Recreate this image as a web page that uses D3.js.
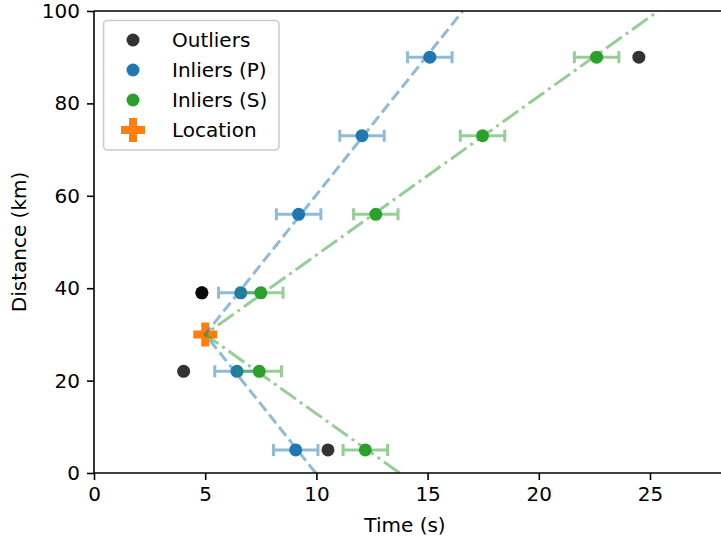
<!DOCTYPE html>
<html>
<head>
<meta charset="utf-8">
<script src="https://cdn.jsdelivr.net/npm/d3@7"></script>
<style>
  body { margin: 0; background: #fff; }
  text { font-family: "DejaVu Sans", sans-serif; }
</style>
</head>
<body>
<script>
// picks: distance (km) and arrival time (s)
const outlierDist = [39, 39, 22, 5, 90];
const outlierTime = [4.85, 4.85, 4.03, 10.52, 24.5];

const pDist = [5, 22, 39, 56, 73, 90];
const pTime = [9.07, 6.43, 6.6, 9.2, 12.05, 15.1];
const pErr  = [1.0, 1.0, 1.0, 1.0, 1.0, 1.0];

const sDist = [5, 22, 39, 56, 73, 90];
const sTime = [12.2, 7.43, 7.5, 12.67, 17.47, 22.6];
const sErr  = [1.0, 1.0, 1.0, 1.0, 1.0, 1.0];

const locTime = 5.0, locDist = 30;

// fitted moveout lines (time at distance)
const pLineDist = [0, 30, 100];
const pLineTime = [9.97, 5.0, 16.58];
const sLineDist = [0, 30, 100];
const sLineTime = [13.74, 5.0, 25.37];

const xTicks = [0, 5, 10, 15, 20, 25];
const yTicks = [0, 20, 40, 60, 80, 100];

const legendLabels = ["Outliers", "Inliers (P)", "Inliers (S)", "Location"];

const width = 721, height = 538;
const m_left = 94, m_top = 11, m_bottom = 473;

const blue = "#1f77b4", green = "#2ca02c", orange = "#ff7f0e", dark = "#333333";

const svg = d3.select("body").append("svg")
    .attr("width", width)
    .attr("height", height);

const x = d3.scaleLinear().domain([0, 30]).range([m_left, m_left + 30 * 22.24]);
const y = d3.scaleLinear().domain([0, 100]).range([m_bottom, m_top]);

// clip everything outside the axes box
svg.append("clipPath").attr("id", "clip")
    .append("rect").attr("x", m_left).attr("y", m_top)
    .attr("width", width - m_left).attr("height", m_bottom - m_top);

const plot = svg.append("g").attr("clip-path", "url(#clip)");

function errorSeries(dist, time, err, color) {
    const g = plot.append("g");
    const cap = 6;
    dist.forEach((d, i) => {
        const x0 = x(time[i] - err[i]), x1 = x(time[i] + err[i]), yy = y(d);
        const path = `M${x0},${yy}H${x1}M${x0},${yy - cap}V${yy + cap}M${x1},${yy - cap}V${yy + cap}`;
        g.append("path")
            .attr("d", path)
            .attr("fill", "none")
            .attr("stroke", color)
            .attr("stroke-opacity", 0.5)
            .attr("stroke-width", 3);
    });
    g.selectAll("circle")
        .data(dist)
        .enter()
        .append("circle")
        .attr("cx", (d, i) => x(time[i]))
        .attr("cy", d => y(d))
        .attr("r", 6.5)
        .attr("fill", color);
}

// outliers (black, alpha 0.8 -> overlapping picks look darker)
plot.append("g").selectAll("circle")
    .data(outlierDist)
    .enter()
    .append("circle")
    .attr("cx", (d, i) => x(outlierTime[i]))
    .attr("cy", d => y(d))
    .attr("r", 6.5)
    .attr("fill", "#000")
    .attr("fill-opacity", 0.8);

errorSeries(pDist, pTime, pErr, blue);
errorSeries(sDist, sTime, sErr, green);

// filled plus marker
function plusPath(cx, cy, s) {
    const a = s / 2, b = s / 6;
    return `M${cx - b},${cy - a}H${cx + b}V${cy - b}H${cx + a}V${cy + b}H${cx + b}V${cy + a}H${cx - b}V${cy + b}H${cx - a}V${cy - b}H${cx - b}Z`;
}

plot.append("path")
    .attr("d", plusPath(x(locTime), y(locDist), 24))
    .attr("fill", orange);

const line = d3.line().x(d => x(d[0])).y(d => y(d[1]));

plot.append("path")
    .attr("d", line(pLineTime.map((t, i) => [t, pLineDist[i]])))
    .attr("fill", "none")
    .attr("stroke", blue)
    .attr("stroke-opacity", 0.5)
    .attr("stroke-width", 3)
    .attr("stroke-dasharray", "11.1,4.8");

plot.append("path")
    .attr("d", line(sLineTime.map((t, i) => [t, sLineDist[i]])))
    .attr("fill", "none")
    .attr("stroke", green)
    .attr("stroke-opacity", 0.5)
    .attr("stroke-width", 3)
    .attr("stroke-dasharray", "19.2,4.8,3,4.8");

// axes
const xAxis = svg.append("g")
    .attr("transform", `translate(0,${m_bottom})`)
    .call(d3.axisBottom(x).tickValues(xTicks).tickSize(7).tickPadding(7));
const yAxis = svg.append("g")
    .attr("transform", `translate(${m_left},0)`)
    .call(d3.axisLeft(y).tickValues(yTicks).tickSize(7).tickPadding(7));

[xAxis, yAxis].forEach(a => {
    a.selectAll("path.domain").attr("stroke", "#000").attr("stroke-width", 1.6);
    a.selectAll(".tick line").attr("stroke", "#000").attr("stroke-width", 1.6);
    a.selectAll(".tick text").attr("font-size", 20).attr("fill", "#000")
        .attr("font-family", "DejaVu Sans");
});
xAxis.select("path.domain").attr("d", `M${m_left},0H${width + 10}`);
yAxis.select("path.domain").attr("d", `M0,${m_bottom}V${m_top}`);

// top spine
svg.append("line")
    .attr("x1", m_left).attr("x2", width + 10)
    .attr("y1", m_top).attr("y2", m_top)
    .attr("stroke", "#000").attr("stroke-width", 1.6);

svg.append("text")
    .attr("x", 405)
    .attr("y", 532)
    .attr("text-anchor", "middle")
    .attr("font-size", 20)
    .text("Time (s)");

svg.append("text")
    .attr("transform", `translate(26,${(m_top + m_bottom) / 2}) rotate(-90)`)
    .attr("text-anchor", "middle")
    .attr("font-size", 20)
    .text("Distance (km)");

// legend
const legend = svg.append("g");
legend.append("rect")
    .attr("x", 103.5).attr("y", 20.5)
    .attr("width", 175.5).attr("height", 129.5)
    .attr("rx", 4)
    .attr("fill", "#fff").attr("fill-opacity", 0.8)
    .attr("stroke", "#cccccc").attr("stroke-width", 1.6);

const legendColors = [dark, blue, green, orange];
legendLabels.forEach((lab, i) => {
    const yy = 40 + i * 30;
    if (i < 3) {
        legend.append("circle").attr("cx", 133).attr("cy", yy).attr("r", 6.5)
            .attr("fill", legendColors[i]);
    } else {
        legend.append("path").attr("d", plusPath(133, yy, 24)).attr("fill", orange);
    }
    legend.append("text")
        .attr("x", 172).attr("y", yy + 7.3)
        .attr("font-size", 20)
        .text(lab);
});
</script>
</body>
</html>
